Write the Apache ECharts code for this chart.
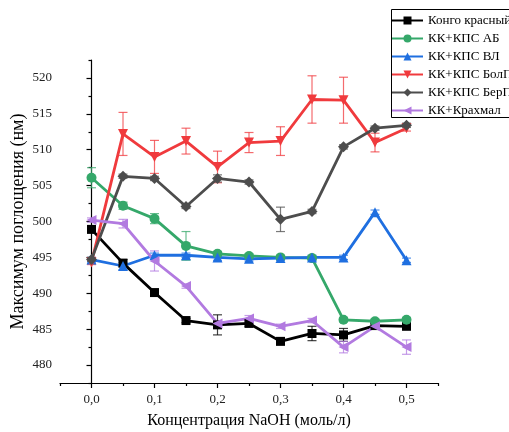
<!DOCTYPE html>
<html>
<head>
<meta charset="utf-8">
<script src="https://cdn.jsdelivr.net/npm/echarts@6/dist/echarts.min.js"></script>
<style>
  html, body { margin: 0; padding: 0; background: #fff; }
  #chart { width: 509px; height: 432px; }
</style>
</head>
<body>
<div id="chart"></div>
<script>
// концентрация NaOH, моль/л
const conc = [0, 0.05, 0.1, 0.15, 0.2, 0.25, 0.3, 0.35, 0.4, 0.45, 0.5];

const kongo = [498.9, 494.2, 490.1, 486.2, 485.6, 485.8, 483.3, 484.4, 484.2, 485.5, 485.4];
const kongoErr = [0.3, 0.5, 0.3, 0.3, 1.4, 0.4, 0.3, 1.0, 0.9, 0.3, 0.3];

const ab = [506.1, 502.2, 500.4, 496.6, 495.5, 495.2, 495.0, 494.9, 486.3, 486.1, 486.3];
const abErr = [1.4, 0.5, 0.7, 2.0, 0.3, 0.3, 0.3, 0.3, 0.3, 0.3, 0.3];

const vl = [494.7, 493.8, 495.3, 495.3, 495.0, 494.8, 494.9, 495.0, 495.0, 501.3, 494.6];
const vlErr = [0.3, 0.5, 0.3, 0.3, 0.4, 0.3, 0.3, 0.3, 0.3, 0.3, 0.3];

const bolp = [494.3, 512.2, 509.0, 511.2, 507.6, 511.0, 511.2, 517.0, 516.9, 511.0, 513.0];
const bolpErr = [0.3, 3.0, 2.3, 1.8, 2.2, 1.4, 2.0, 3.3, 3.2, 1.3, 0.4];

const berp = [494.7, 506.3, 506.0, 502.1, 506.0, 505.5, 500.3, 501.4, 510.4, 513.0, 513.4];
const berpErr = [0.3, 0.3, 0.3, 0.3, 0.5, 0.3, 1.7, 0.3, 0.3, 0.3, 0.3];

const krahmal = [500.2, 499.7, 494.5, 491.0, 485.8, 486.5, 485.4, 486.2, 482.5, 485.4, 482.5];
const krahmalErr = [0.3, 0.6, 1.4, 0.3, 0.3, 0.4, 0.3, 0.3, 0.8, 0.3, 1.0];

const xMajor = [0, 0.1, 0.2, 0.3, 0.4, 0.5];
const xMinor = [-0.05, 0.05, 0.15, 0.25, 0.35, 0.45, 0.55];
const yMajor = [480, 485, 490, 495, 500, 505, 510, 515, 520];
const yMinor = [477.5, 482.5, 487.5, 492.5, 497.5, 502.5, 507.5, 512.5, 517.5, 522.5];

const FONT = 'Liberation Serif';

const seriesDefs = [
  { name: 'Конго красный', data: kongo, err: kongoErr, color: '#000000', symbol: 'rect', size: 9, rotate: 0 },
  { name: 'КК+КПС АБ', data: ab, err: abErr, color: '#35a86a', symbol: 'circle', size: 10, rotate: 0 },
  { name: 'КК+КПС ВЛ', data: vl, err: vlErr, color: '#1f6fe0', symbol: 'triangle', size: 10, rotate: 0 },
  { name: 'КК+КПС БолП', data: bolp, err: bolpErr, color: '#f03a3d', symbol: 'triangle', size: 10, rotate: 180 },
  { name: 'КК+КПС БерП', data: berp, err: berpErr, color: '#4d4d4d', symbol: 'diamond', size: 11, rotate: 0 },
  { name: 'КК+Крахмал', data: krahmal, err: krahmalErr, color: '#b27ae0', symbol: 'triangle', size: 10, rotate: 90 }
];

const errorBars = color => (params, api) => {
  const x = api.value(0);
  const lo = api.coord([x, api.value(1)]);
  const hi = api.coord([x, api.value(2)]);
  const w = 4.5;
  const style = { stroke: color, lineWidth: 1.2, opacity: 0.75 };
  return {
    type: 'group',
    children: [
      { type: 'line', shape: { x1: lo[0], y1: lo[1], x2: hi[0], y2: hi[1] }, style },
      { type: 'line', shape: { x1: lo[0] - w, y1: lo[1], x2: lo[0] + w, y2: lo[1] }, style },
      { type: 'line', shape: { x1: hi[0] - w, y1: hi[1], x2: hi[0] + w, y2: hi[1] }, style }
    ]
  };
};

const series = [];
seriesDefs.forEach(s => {
  series.push({
    type: 'custom',
    name: s.name + ' err',
    xAxisIndex: 0,
    yAxisIndex: 0,
    z: 1,
    silent: true,
    renderItem: errorBars(s.color),
    encode: { x: 0, y: [1, 2] },
    data: conc.map((x, i) => [x, s.data[i] - s.err[i], s.data[i] + s.err[i]])
  });
});
seriesDefs.forEach(s => {
  series.push({
    type: 'line',
    name: s.name,
    xAxisIndex: 0,
    yAxisIndex: 0,
    z: 3,
    data: conc.map((x, i) => [x, s.data[i]]),
    symbol: s.symbol,
    symbolSize: s.size,
    symbolRotate: s.rotate,
    showAllSymbol: true,
    itemStyle: { color: s.color },
    lineStyle: { color: s.color, width: 2.8 }
  });
});

const axisLineStyle = { color: '#000', width: 1.2 };

const option = {
  animation: false,
  backgroundColor: '#fff',
  grid: { left: 60, right: 71, top: 60, bottom: 49, outerBoundsMode: 'none' },
  // рамка легенды уходит за правый край, как в оригинале
  graphic: [{
    type: 'rect',
    shape: { x: 391.5, y: 9.5, width: 160, height: 108 },
    style: { fill: 'none', stroke: '#000', lineWidth: 1 },
    z: 10
  }],
  legend: {
    orient: 'vertical',
    left: 390,
    top: 13,
    data: seriesDefs.map(s => s.name),
    itemWidth: 31,
    itemHeight: 10,
    itemGap: 3,
    padding: [0, 0, 0, 1],
    textStyle: { fontFamily: FONT, fontSize: 13, color: '#000', lineHeight: 15 }
  },
  xAxis: [
    {
      type: 'value',
      min: -0.05,
      max: 0.55,
      name: 'Концентрация NaOH (моль/л)',
      nameLocation: 'middle',
      nameGap: 30,
      nameMoveOverlap: false,
      nameTextStyle: { fontFamily: FONT, fontSize: 16, color: '#000' },
      splitLine: { show: false },
      axisLine: { lineStyle: axisLineStyle },
      axisTick: { customValues: xMajor, length: 5, inside: false, lineStyle: axisLineStyle },
      axisLabel: {
        customValues: xMajor,
        margin: 10,
        fontFamily: FONT,
        fontSize: 13,
        color: '#222',
        formatter: v => v.toFixed(1).replace('.', ',')
      }
    },
    {
      type: 'value',
      min: -0.05,
      max: 0.55,
      position: 'bottom',
      splitLine: { show: false },
      axisLine: { show: false },
      axisTick: { customValues: xMinor, length: 3, lineStyle: axisLineStyle },
      axisLabel: { show: false }
    }
  ],
  yAxis: [
    {
      type: 'value',
      min: 477.5,
      max: 522.5,
      name: 'Максимум поглощения (нм)',
      nameLocation: 'middle',
      nameGap: 33,
      nameMoveOverlap: false,
      nameTextStyle: { fontFamily: FONT, fontSize: 18, color: '#000' },
      splitLine: { show: false },
      axisLine: { show: true, lineStyle: axisLineStyle },
      axisTick: { show: true, customValues: yMajor, length: 5, lineStyle: axisLineStyle },
      axisLabel: {
        customValues: yMajor,
        margin: 8,
        fontFamily: FONT,
        fontSize: 13,
        color: '#222'
      }
    },
    {
      type: 'value',
      min: 477.5,
      max: 522.5,
      position: 'left',
      splitLine: { show: false },
      axisLine: { show: false },
      axisTick: { show: true, customValues: yMinor, length: 3, lineStyle: axisLineStyle },
      axisLabel: { show: false }
    }
  ],
  series: series
};

const chart = echarts.init(document.getElementById('chart'), null, { renderer: 'canvas' });
chart.setOption(option);
</script>
</body>
</html>
